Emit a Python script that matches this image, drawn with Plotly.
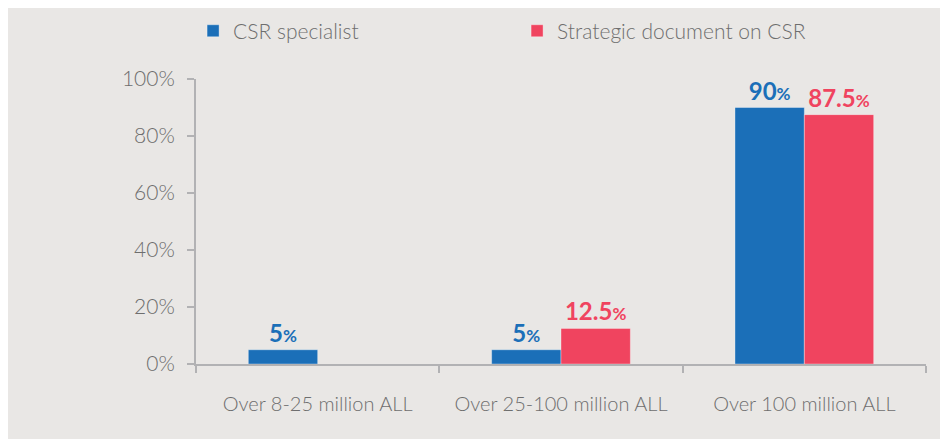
import plotly.graph_objects as go

# data
categories = ["Over 8-25 million ALL", "Over 25-100 million ALL", "Over 100 million ALL"]
csr_specialist = [5, 5, 90]
strategic_doc = [None, 12.5, 87.5]
y_ticks = [0, 20, 40, 60, 80, 100]

blue = "#1B6FB8"
red = "#F0445F"
bg = "#E9E7E5"
grey_txt = "#6E6E6E"
axis_col = "#B2B2B4"
font_fam = "Lato, 'Open Sans', sans-serif"


def lab(v):
    if v is None:
        return ""
    return "<b>%s<span style='font-size:17px'>%%</span></b>" % ("{:g}".format(v))


fig = go.Figure()
fig.add_trace(go.Bar(
    x=categories, y=csr_specialist, name="CSR specialist",
    offsetgroup="a",
    marker=dict(color=blue, line=dict(color="rgba(255,255,255,0.35)", width=1)),
    text=[lab(v) for v in csr_specialist], textposition="outside",
    textfont=dict(color=blue, size=24, family=font_fam),
    cliponaxis=False,
))
fig.add_trace(go.Bar(
    x=categories, y=strategic_doc, name="Strategic document on CSR",
    offsetgroup="b",
    marker=dict(color=red, line=dict(color="rgba(255,255,255,0.35)", width=1)),
    text=[lab(v) for v in strategic_doc], textposition="outside",
    textfont=dict(color=red, size=24, family=font_fam),
    cliponaxis=False,
))

fig.update_layout(
    width=948, height=439,
    paper_bgcolor=bg, plot_bgcolor=bg,
    margin=dict(l=188, r=30, t=71, b=83, autoexpand=False),
    barmode="group", bargap=0.43, bargroupgap=0,
    font=dict(family=font_fam, color=grey_txt, weight=300),
    showlegend=True,
    legend=dict(orientation="h", x=-0.004, xanchor="left", y=1.168, yanchor="middle",
                font=dict(size=21, color=grey_txt, weight=300), entrywidth=279,
                bgcolor="rgba(0,0,0,0)"),
)
fig.update_xaxes(
    showline=True, linecolor=axis_col, linewidth=2,
    ticks="outside", tickson="boundaries", ticklen=7, tickcolor=axis_col, tickwidth=2,
    tickfont=dict(size=20, color=grey_txt, weight=300), ticklabelstandoff=21,
    showgrid=False, zeroline=False,
)
fig.update_yaxes(
    range=[0, 100], tickvals=y_ticks, ticktext=["%d%%" % t for t in y_ticks],
    showline=True, linecolor=axis_col, linewidth=2,
    ticks="outside", ticklen=7, tickcolor=axis_col, tickwidth=2,
    tickfont=dict(size=21, color=grey_txt, weight=300), ticklabelstandoff=8,
    showgrid=False, zeroline=False,
)

fig.write_html("out.html")
